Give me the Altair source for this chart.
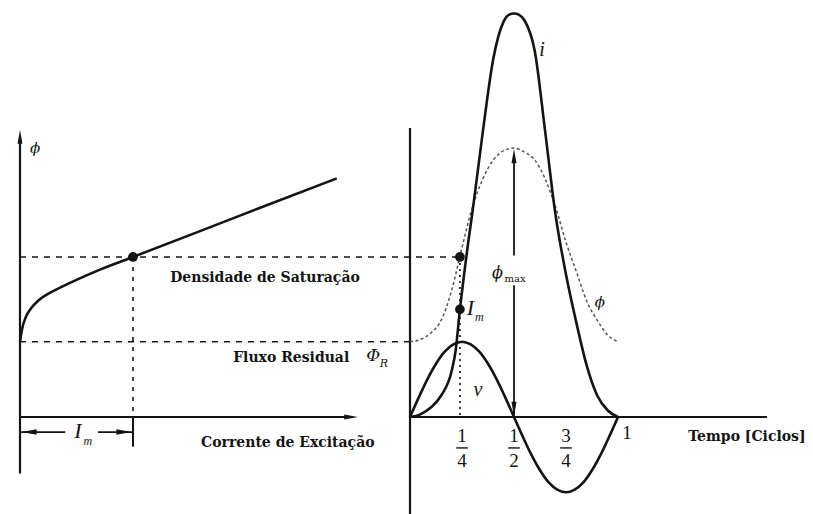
import altair as alt
import pandas as pd

# ---- magnetisation curve (excitation current in units of I_m, flux in units of phi_max)
mag_current = [0.0, 0.02, 0.05, 0.1, 0.16, 0.236, 0.35, 0.5, 0.708, 1.0, 1.593, 2.183, 2.803]
mag_flux = [0.28, 0.33, 0.37, 0.405, 0.432, 0.455, 0.48, 0.51, 0.548, 0.595, 0.691, 0.787, 0.887]

flux_residual = 0.28
flux_saturation = 0.595
current_m = 1.0
t_sat = 0.24

# ---- waveforms over one cycle
phi_time = [0, 0.05, 0.1, 0.15, 0.2, 0.25, 0.3, 0.35, 0.4, 0.45, 0.5,
            0.55, 0.6, 0.65, 0.7, 0.75, 0.8, 0.85, 0.9, 0.95, 1.0]
phi_flux = [0.28, 0.288, 0.312, 0.36, 0.47, 0.63, 0.78, 0.885, 0.955, 0.99, 1.0,
            0.985, 0.955, 0.885, 0.78, 0.65, 0.54, 0.43, 0.36, 0.305, 0.28]

i_time = [0, 0.05, 0.1, 0.15, 0.2, 0.22, 0.24, 0.26, 0.28, 0.3, 0.35, 0.4, 0.45,
          0.475, 0.5, 0.525, 0.55, 0.6, 0.65, 0.7, 0.75, 0.8, 0.85, 0.9, 0.95, 1.0]
i_val = [0, 0.01, 0.035, 0.08, 0.17, 0.25, 0.40, 0.53, 0.65, 0.76, 1.06, 1.33, 1.47,
         1.495, 1.50, 1.495, 1.475, 1.36, 1.06, 0.75, 0.53, 0.35, 0.19, 0.08, 0.025, 0.0]

v_time = [k / 24 for k in range(25)]
v_val = [0, 0.072, 0.14, 0.198, 0.243, 0.27, 0.28, 0.27, 0.243, 0.198, 0.14, 0.072, 0,
         -0.072, -0.14, -0.198, -0.243, -0.27, -0.28, -0.27, -0.243, -0.198, -0.14, -0.072, 0]

tick_pos = [0.25, 0.5, 0.75]
tick_num = ["1", "1", "3"]
tick_den = ["4", "2", "4"]

INK = "#141414"
W, H = 813, 514

Y = dict(scale=alt.Scale(domain=[-0.3606, 1.5502], nice=False, zero=False), axis=None)
XL = dict(scale=alt.Scale(domain=[-0.1770, 7.0177], nice=False, zero=False), axis=None)
XR = dict(scale=alt.Scale(domain=[-1.9712, 1.9375], nice=False, zero=False), axis=None)

ARROW = "M0,-1L0.36,1L-0.36,1Z"


def segs(rows, xs, **style):
    df = pd.DataFrame(rows, columns=["x", "x2", "y", "y2"])
    return alt.Chart(df).mark_rule(color=INK, **style).encode(
        x=alt.X("x:Q", **xs), x2="x2:Q", y=alt.Y("y:Q", **Y), y2="y2:Q")


def heads(rows, xs, size=150):
    df = pd.DataFrame(rows, columns=["x", "y", "ang"])
    return alt.Chart(df).mark_point(shape=ARROW, filled=True, color=INK, opacity=1,
                                    size=size, strokeWidth=0).encode(
        x=alt.X("x:Q", **xs), y=alt.Y("y:Q", **Y), angle=alt.Angle("ang:Q", scale=None))


def texts(rows, xs, **style):
    df = pd.DataFrame(rows, columns=["x", "y", "label"])
    return alt.Chart(df).mark_text(color=INK, align="center", baseline="middle", **style).encode(
        x=alt.X("x:Q", **xs), y=alt.Y("y:Q", **Y), text="label:N")


def dots(rows, xs):
    df = pd.DataFrame(rows, columns=["x", "y"])
    return alt.Chart(df).mark_point(filled=True, color=INK, opacity=1, size=95).encode(
        x=alt.X("x:Q", **xs), y=alt.Y("y:Q", **Y))


# ---------------- left: flux vs excitation current ----------------
mag_df = pd.DataFrame({"x": mag_current, "y": mag_flux})
mag_line = alt.Chart(mag_df).mark_line(color=INK, strokeWidth=2.6, interpolate="monotone").encode(
    x=alt.X("x:Q", **XL), y=alt.Y("y:Q", **Y))

left = alt.layer(
    segs([[0, 0, -0.21, 1.03], [0, 2.92, 0, 0]], XL, strokeWidth=2.2),
    heads([[0, 1.041, 0], [2.93, 0, 90]], XL, size=190),
    mag_line,
    segs([[current_m, current_m, flux_saturation, 0.0]], XL, strokeWidth=1.6, strokeDash=[4, 6]),
    segs([[current_m, current_m, 0.0, -0.11]], XL, strokeWidth=2.0),
    segs([[0.0, 0.40, -0.056, -0.056], [0.69, current_m, -0.056, -0.056]], XL, strokeWidth=1.8),
    heads([[0.08, -0.056, 270], [0.92, -0.056, 90]], XL, size=230),
    dots([[current_m, flux_saturation]], XL),
    texts([[0.513, -0.052, "I"]], XL, font="Liberation Serif", fontStyle="italic", fontSize=22),
    texts([[0.60, -0.088, "m"]], XL, font="Liberation Serif", fontStyle="italic", fontSize=12),
    texts([[0.133, 1.0, "ϕ"]], XL, font="DejaVu Serif", fontStyle="italic", fontSize=15),
    texts([[2.168, 0.517, "Densidade de Saturação"],
           [2.40, 0.219, "Fluxo Residual"],
           [2.37, -0.097, "Corrente de Excitação"]], XL,
          font="DejaVu Serif", fontWeight="bold", fontSize=14),
    texts([[3.125, 0.228, "Φ"]], XL, font="DejaVu Serif", fontStyle="italic", fontSize=17),
    texts([[3.22, 0.197, "R"]], XL, font="DejaVu Serif", fontStyle="italic", fontSize=11),
)

# ---------------- right: waveforms over one cycle ----------------
phi_df = pd.DataFrame({"x": phi_time, "y": phi_flux})
i_df = pd.DataFrame({"x": i_time, "y": i_val})
v_df = pd.DataFrame({"x": v_time, "y": v_val})


def curve(df, **style):
    return alt.Chart(df).mark_line(interpolate="monotone", **style).encode(
        x=alt.X("x:Q", **XR), y=alt.Y("y:Q", **Y))


frac_rows_num = [[p, -0.072, n] for p, n in zip(tick_pos, tick_num)]
frac_rows_den = [[p, -0.165, d] for p, d in zip(tick_pos, tick_den)]
frac_bars = [[p - 0.028, p + 0.028, -0.115, -0.115] for p in tick_pos]

right = alt.layer(
    segs([[0, 0, -0.3606, 1.074], [0, 1.716, 0, 0]], XR, strokeWidth=2.2),
    segs([[-1.875, t_sat, flux_saturation, flux_saturation],
          [-1.875, 0.0, flux_residual, flux_residual]], XR, strokeWidth=1.6, strokeDash=[6, 6]),
    segs([[t_sat, t_sat, flux_saturation, 0.0]], XR, strokeWidth=1.6, strokeDash=[2, 4]),
    curve(phi_df, color="#555555", strokeWidth=1.5, strokeDash=[3, 2.5]),
    curve(i_df, color=INK, strokeWidth=2.6),
    curve(v_df, color=INK, strokeWidth=2.6),
    segs([[0.5, 0.5, 0.60, 0.96], [0.5, 0.5, 0.0, 0.49]], XR, strokeWidth=1.8),
    heads([[0.5, 0.970, 0], [0.5, 0.030, 180]], XR, size=200),
    dots([[t_sat, flux_saturation], [t_sat, 0.40]], XR),
    segs(frac_bars, XR, strokeWidth=1.4),
    texts(frac_rows_num + frac_rows_den + [[1.043, -0.06, "1"]], XR,
          font="Liberation Serif", fontSize=19),
    texts([[1.62, -0.074, "Tempo [Ciclos]"]], XR,
          font="DejaVu Serif", fontWeight="bold", fontSize=14),
    texts([[0.42, 0.535, "ϕ"]], XR, font="DejaVu Serif", fontStyle="italic", fontSize=16),
    texts([[0.505, 0.512, "max"]], XR, font="DejaVu Serif", fontSize=10),
    texts([[0.635, 1.364, "i"], [0.327, 0.10, "v"]], XR,
          font="Liberation Serif", fontStyle="italic", fontSize=20),
    texts([[0.913, 0.428, "ϕ"]], XR, font="DejaVu Serif", fontStyle="italic", fontSize=15),
    texts([[0.29, 0.405, "I"]], XR, font="Liberation Serif", fontStyle="italic", fontSize=22),
    texts([[0.333, 0.372, "m"]], XR, font="Liberation Serif", fontStyle="italic", fontSize=12),
)

chart = alt.layer(left, right).resolve_scale(x="independent").properties(
    width=W, height=H, padding=0, background="white",
    autosize=alt.AutoSizeParams(type="none"),
).configure_view(strokeWidth=0)

chart.save("out.html", embed_options={"renderer": "svg", "actions": False})
